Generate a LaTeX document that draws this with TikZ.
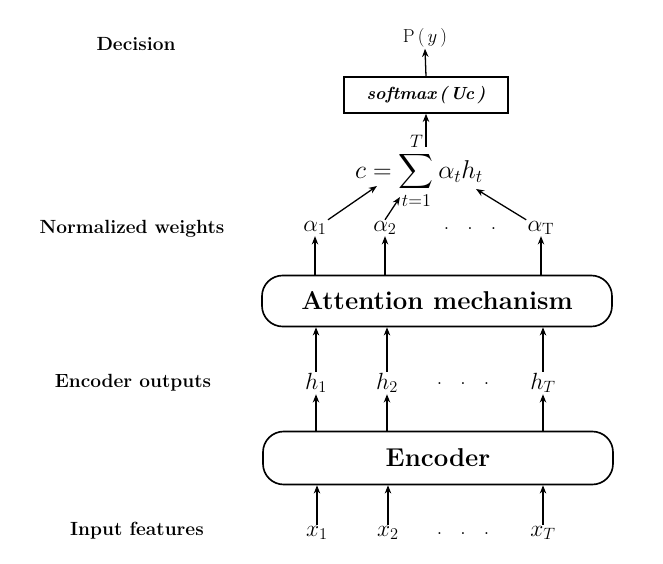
\RequirePackage{fix-cm}
\documentclass[tikz,border=0pt]{standalone}
\usepackage{amsmath}
\usepackage{fontspec}
\usetikzlibrary{arrows.meta}
\tikzset{
  lbl/.style={font=\bfseries\fontsize{16.3}{18}\selectfont},
  var/.style={inner sep=1pt, font=\fontsize{20}{22}\selectfont},
  blk/.style={draw, line width=1.4pt, rounded corners=0.62cm, minimum width=10.5cm,
    font=\bfseries\fontsize{22}{24}\selectfont},
  arr/.style={-{Stealth[length=7pt,width=5.5pt]}, line width=1.1pt},
}
\newcommand{\dotrow}{.\hspace{15pt}.\hspace{15pt}.}
\begin{document}
\begin{tikzpicture}[x=0.03cm, y=-0.03cm]
  \useasboundingbox (0,0) rectangle (663,564);
  % row labels
  \node[lbl] (dec) at (136,44) {Decision};
  \node[lbl] (nw) at (132,229) {Normalized weights};
  \node[lbl] (eo) at (133,383) {Encoder outputs};
  \node[lbl] (inf) at (137,531) {Input features};
  % decision
  \node[var, font=\fontsize{16}{18}\selectfont] (py) at (425,38) {P\,(\,$y$\,)};
  \node[draw, line width=1.3pt, minimum width=4.92cm, minimum height=1.08cm,
    font=\bfseries\itshape\fontsize{15}{17}\selectfont] (soft) at (426,95) {softmax\,(\,Uc\,)};
  \node[inner sep=0pt, font=\fontsize{22}{24}\selectfont] (ctx) at (419,171)
    {$\displaystyle c=\sum_{t=1}^{T}\alpha_t h_t$};
  \coordinate (cout) at (426,147);
  \coordinate (cin1) at (377,186);
  \coordinate (cin2) at (400,197);
  \coordinate (cin3) at (476,189);
  % weights
  \node[var] (a1) at (315,228) {$\alpha_1$};
  \node[var] (a2) at (385,228) {$\alpha_2$};
  \node[var] (ad) at (470,229) {\dotrow};
  \node[var] (aT) at (541,228) {$\alpha_{\mathrm{T}}$};
  % attention
  \node[blk, minimum height=1.53cm] (attn) at (437,301) {Attention mechanism};
  % encoder outputs
  \node[var] (h1) at (316,383) {$h_1$};
  \node[var] (h2) at (387,383) {$h_2$};
  \node[var] (hd) at (463,384) {\dotrow};
  \node[var] (hT) at (543,383) {$h_T$};
  % encoder
  \node[blk, minimum height=1.59cm] (enc) at (438,458) {Encoder};
  % inputs
  \node[var] (x1) at (317,533) {$x_1$};
  \node[var] (x2) at (388,533) {$x_2$};
  \node[var] (xd) at (463,534) {\dotrow};
  \node[var] (xT) at (543,533) {$x_T$};
  % arrows
  \draw[arr] (soft.north) -- (py.south);
  \draw[arr] (cout) -- (soft.south);
  \draw[arr] (a1.north east) -- (cin1);
  \draw[arr] (a2.north) -- (cin2);
  \draw[arr] (aT.north west) -- (cin3);
  \foreach \n in {a1,a2,aT} \draw[arr] (attn.north -| \n) -- (\n.south);
  \foreach \n in {h1,h2,hT} \draw[arr] (\n.north) -- (attn.south -| \n);
  \foreach \n in {h1,h2,hT} \draw[arr] (enc.north -| \n) -- (\n.south);
  \foreach \n in {x1,x2,xT} \draw[arr] (\n.north) -- (enc.south -| \n);
\end{tikzpicture}
\end{document}
